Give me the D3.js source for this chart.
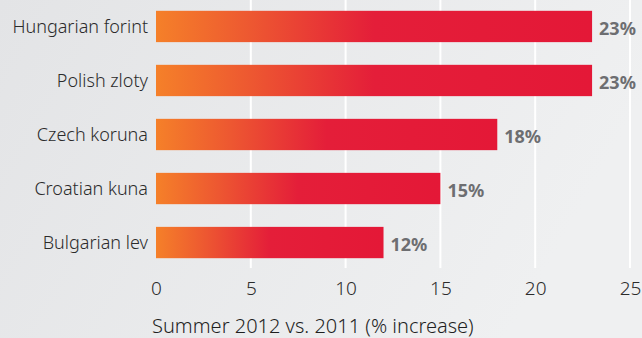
<!DOCTYPE html>
<html>
<head>
<meta charset="utf-8">
<script src="https://cdn.jsdelivr.net/npm/d3@7"></script>
<style>
  body { margin: 0; }
  svg { display: block; }
</style>
</head>
<body>
<div id="chart"></div>
<script>
// data
const currencies = ["Hungarian forint", "Polish zloty", "Czech koruna", "Croatian kuna", "Bulgarian lev"];
const increases = [23, 23, 18, 15, 12];
const xTicks = [0, 5, 10, 15, 20, 25];
const axisTitle = "Summer 2012 vs. 2011 (% increase)";

const W = 642, H = 338;
const font = "'Noto Sans', sans-serif";

const svg = d3.select("#chart")
  .append("svg")
    .attr("width", W)
    .attr("height", H);

const defs = svg.append("defs");

// background gradient
const bg = defs.append("linearGradient")
    .attr("id", "bg")
    .attr("x1", "0").attr("y1", "0")
    .attr("x2", "1").attr("y2", "0.3");
bg.append("stop").attr("offset", "0").attr("stop-color", "#e3e4e6");
bg.append("stop").attr("offset", "1").attr("stop-color", "#eff0f1");

// bar gradient
const bar = defs.append("linearGradient")
    .attr("id", "bar")
    .attr("x1", "0").attr("y1", "0")
    .attr("x2", "1").attr("y2", "0");
bar.append("stop").attr("offset", "0").attr("stop-color", "#f58029");
bar.append("stop").attr("offset", "0.22").attr("stop-color", "#ed5731");
bar.append("stop").attr("offset", "0.5").attr("stop-color", "#e41e39");
bar.append("stop").attr("offset", "1").attr("stop-color", "#e41837");

svg.append("rect")
    .attr("width", W)
    .attr("height", H)
    .attr("fill", "url(#bg)");

const x = d3.scaleLinear()
    .domain([0, 25])
    .range([156, 630]);

const y = d3.scaleBand()
    .domain(currencies)
    .range([0, 269])
    .paddingInner(0.42)
    .paddingOuter(0.2);

// gridlines
svg.append("g")
  .selectAll("line")
  .data(xTicks.filter(d => d > 0))
  .join("line")
    .attr("x1", d => x(d))
    .attr("x2", d => x(d))
    .attr("y1", 0)
    .attr("y2", 268)
    .attr("stroke", "#ffffff")
    .attr("stroke-width", 2);

// bars
svg.append("g")
  .selectAll("rect")
  .data(currencies)
  .join("rect")
    .attr("x", x(0))
    .attr("y", d => y(d))
    .attr("width", (d, i) => x(increases[i]) - x(0))
    .attr("height", y.bandwidth())
    .attr("fill", "url(#bar)");

// category labels
svg.append("g")
  .selectAll("text")
  .data(currencies)
  .join("text")
    .attr("x", 148)
    .attr("y", d => y(d) + y.bandwidth() / 2)
    .attr("dy", "0.35em")
    .attr("text-anchor", "end")
    .attr("font-family", font)
    .attr("font-size", 18)
    .attr("font-weight", 300)
    .attr("fill", "#2b2b2b")
    .text(d => d);

// value labels
svg.append("g")
  .selectAll("text")
  .data(currencies)
  .join("text")
    .attr("x", (d, i) => x(increases[i]) + 7)
    .attr("y", d => y(d) + y.bandwidth() / 2 + 2)
    .attr("dy", "0.35em")
    .attr("font-family", font)
    .attr("font-size", 18)
    .attr("font-weight", "bold")
    .attr("fill", "#6d6e71")
    .text((d, i) => increases[i] + "%");

// x axis
const xAxis = svg.append("g")
    .attr("transform", "translate(0, 281)")
    .call(d3.axisBottom(x).tickValues(xTicks).tickSize(0).tickPadding(0));
xAxis.select(".domain").remove();
xAxis.selectAll("text")
    .attr("font-family", font)
    .attr("font-size", 19)
    .attr("font-weight", 300)
    .attr("fill", "#2b2b2b");

// axis title
svg.append("text")
    .attr("x", 152)
    .attr("y", 333)
    .attr("font-family", font)
    .attr("font-size", 20)
    .attr("font-weight", 300)
    .attr("fill", "#1f1f1f")
    .text(axisTitle);
</script>
</body>
</html>
